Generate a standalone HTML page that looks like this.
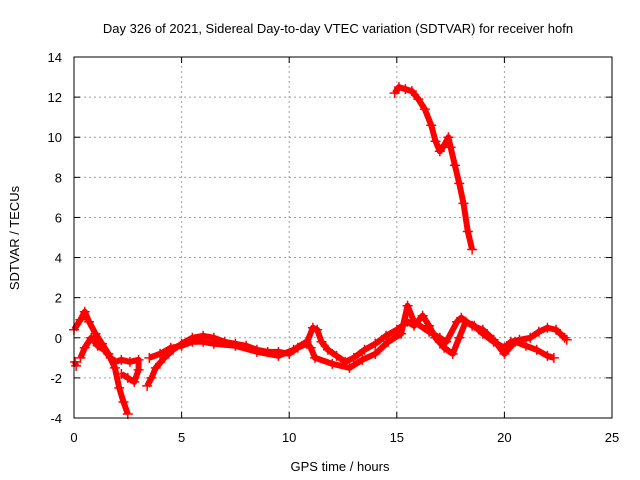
<!DOCTYPE html>
<html><head><meta charset="utf-8"><style>
body{margin:0;background:#fff;}
svg{display:block;font-family:"Liberation Sans",sans-serif;}
</style></head><body>
<svg id="chart" width="640" height="480">
<rect width="640" height="480" fill="#fff"/>
<text x="338" y="33" text-anchor="middle" font-size="13">Day 326 of 2021, Sidereal Day-to-day VTEC variation (SDTVAR) for receiver hofn</text>
<text x="340" y="471" text-anchor="middle" font-size="13">GPS time / hours</text>
<text transform="translate(19,238) rotate(-90)" text-anchor="middle" font-size="13">SDTVAR / TECUs</text>
<g id="grid"></g><g id="ticks"></g><g id="marks"></g>
<rect x="74" y="57" width="538" height="361" fill="none" stroke="#000" stroke-width="1"/>
</svg>
<script>
const xTicks=[0,5,10,15,20,25];
const yTicks=[-4,-2,0,2,4,6,8,10,12,14];
const sA_x=[0,0.3,0.5,0.7,1.0,1.3,1.6,1.9,2.1,2.3,2.5];
const sA_y=[0.4,0.9,1.3,0.8,0.2,-0.3,-0.8,-1.5,-2.5,-3.2,-3.8];
const sB_x=[0.3,0.5,0.8,1.1,1.4,1.7,1.9,2.2,2.6,3.0,3.0,2.8,2.5,2.2];
const sB_y=[-1.0,-0.5,0,-0.4,-0.6,-1.0,-1.2,-1.1,-1.2,-1.1,-1.6,-2.2,-2.0,-1.8];
const sC_x=[0.05,0.1];
const sC_y=[-1.2,-1.4];
const sD_x=[3.4,3.6,3.8,4.2,4.6,5.0,5.5,6.0,6.5,7.0,7.5,8.0,8.5,9.0,9.5,10.0,10.4,10.8,11.1,11.3,11.5,11.8,12.2,12.6,13.0,13.5,14.0,14.5,15.0,15.5,15.8,16.2,16.5,16.8,17.2,17.6,17.9,18.2,18.6,19.0,19.5,20.0,20.3,20.7,21.2,21.6,22.0,22.4,22.8,22.9];
const sD_y=[-2.4,-2.0,-1.5,-1.0,-0.6,-0.3,0,0.1,0,-0.2,-0.3,-0.4,-0.6,-0.7,-0.7,-0.8,-0.5,-0.3,0.5,0.4,-0.2,-0.6,-0.9,-1.2,-1.0,-0.6,-0.3,0.1,0.4,0.8,0.6,1.1,0.6,0,-0.5,-0.8,0,0.8,0.6,0.2,-0.2,-0.5,-0.2,-0.1,0,0.3,0.5,0.4,0,-0.1];
const sE_x=[3.5,4.0,4.5,5.0,5.5,6.0,6.5,7.5,8.5,9.5,10.2,10.8,11.0,11.2,12.0,12.8,13.4,14.0,14.6,15.2,15.5,15.8,16.5,17.0,17.3,17.8,18.0,18.5,19.0,19.5,20.0,20.5,21.0,21.5,22.0,22.3];
const sE_y=[-1.0,-0.8,-0.5,-0.4,-0.2,-0.2,-0.3,-0.4,-0.7,-0.9,-0.6,-0.2,-0.5,-1.0,-1.3,-1.5,-1.1,-0.8,-0.2,0.2,1.6,0.8,0.3,0,-0.2,0.8,1.0,0.6,0.4,-0.1,-0.8,-0.2,-0.4,-0.6,-0.9,-1.0];
const sF_x=[14.9,15.1,15.4,15.7,16.0,16.3,16.6,16.8,17.0,17.2,17.4,17.5,17.7,17.9,18.1,18.3,18.5];
const sF_y=[12.2,12.5,12.4,12.3,11.9,11.4,10.6,9.8,9.3,9.6,10.0,9.5,8.6,7.7,6.7,5.3,4.4];
const series=[[sA_x,sA_y],[sB_x,sB_y],[sC_x,sC_y],[sD_x,sD_y],[sE_x,sE_y],[sF_x,sF_y]];
const NS="http://www.w3.org/2000/svg";
const X0=74,X1=612,Y0=418,Y1=57;
function sx(v){return X0+(v-0)/(25-0)*(X1-X0);}
function sy(v){return Y0-(v+4)/(18)*(Y0-Y1);}
function mk(t,a,p){const e=document.createElementNS(NS,t);for(const k in a)e.setAttribute(k,a[k]);p.appendChild(e);return e;}
const grid=document.getElementById('grid'),ticks=document.getElementById('ticks'),marks=document.getElementById('marks');
xTicks.forEach(v=>{const x=sx(v);
 if(v>0&&v<25){const g=mk('line',{x1:x,x2:x,y1:Y0,y2:Y1,stroke:'#a0a0a0','stroke-dasharray':'2,3'},grid);
 
 }
 mk('line',{x1:x,x2:x,y1:Y0,y2:Y0-6,stroke:'#000'},ticks);mk('line',{x1:x,x2:x,y1:Y1,y2:Y1+6,stroke:'#000'},ticks);
 const t=mk('text',{x:x,y:442,'text-anchor':'middle','font-size':'13'},ticks);t.textContent=v;
 
 });
yTicks.forEach(v=>{const y=sy(v);
 if(v>-4&&v<14){const g=mk('line',{x1:X0,x2:X1,y1:y,y2:y,stroke:'#a0a0a0','stroke-dasharray':'2,3'},grid);
 
 }
 mk('line',{x1:X0,x2:X0+6,y1:y,y2:y,stroke:'#000'},ticks);mk('line',{x1:X1,x2:X1-6,y1:y,y2:y,stroke:'#000'},ticks);
 const t=mk('text',{x:62,y:y+5,'text-anchor':'end','font-size':'13'},ticks);t.textContent=v;
 
 });
series.forEach((s,i)=>{const xs=s[0],ys=s[1];
 const pts=xs.map((x,j)=>sx(x)+','+sy(ys[j])).join(' ');
 const pl=mk('polyline',{points:pts,fill:'none',stroke:'#f00','stroke-width':'6','stroke-linejoin':'round'},marks);
 
 
 xs.forEach((x,j)=>{const cx=sx(x),cy=sy(ys[j]);
  const p=mk('path',{d:`M${cx-5},${cy}H${cx+5}M${cx},${cy-5}V${cy+5}`,stroke:'#f00','stroke-width':'1.5'},marks);
  
  });});
</script>
</body></html>
